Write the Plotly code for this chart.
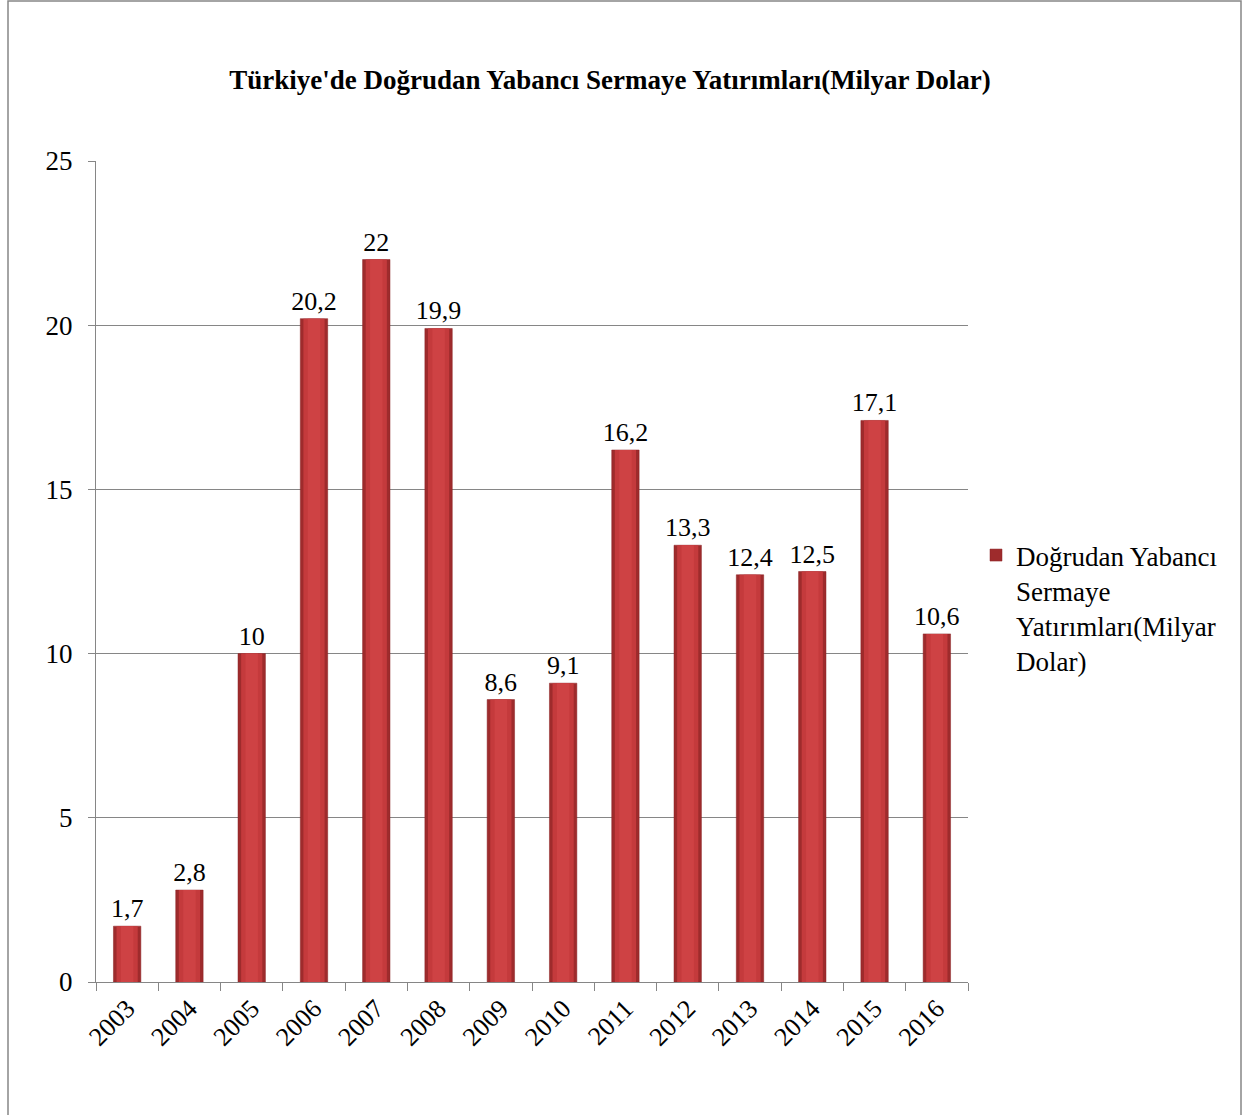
import plotly.graph_objects as go

# Foreign direct investment in Turkey, billion USD
years = ["2003", "2004", "2005", "2006", "2007", "2008", "2009",
         "2010", "2011", "2012", "2013", "2014", "2015", "2016"]
fdi = [1.7, 2.8, 10, 20.2, 22, 19.9, 8.6, 9.1, 16.2, 13.3, 12.4, 12.5, 17.1, 10.6]
y_ticks = [0, 5, 10, 15, 20, 25]

series_name = "Doğrudan Yabancı<br>Sermaye<br>Yatırımları(Milyar<br>Dolar)"
title_text = "Türkiye'de Doğrudan Yabancı Sermaye Yatırımları(Milyar Dolar)"

labels = [("%g" % v).replace(".", ",") for v in fdi]

FONT = "Liberation Serif, Times New Roman, serif"
W, H = 1248, 1115
L, R, T, B = 96, 280, 161, 133
pw, ph = W - L - R, H - T - B

fig = go.Figure()

# dark outer body of each bar (carries legend entry and value labels)
fig.add_trace(go.Bar(
    x=years, y=fdi, width=0.44, name=series_name,
    marker=dict(color="#9E2B2C", line=dict(color="#8A2324", width=0.5)),
    text=labels, textposition="outside", cliponaxis=False, constraintext="none",
    textfont=dict(family=FONT, size=26, color="#000000"),
    showlegend=True,
))
# lighter centre bands for a rounded look
fig.add_trace(go.Bar(
    x=years, y=fdi, width=0.34, showlegend=False, hoverinfo="skip",
    marker=dict(color="#C43A3C", line=dict(width=0)),
))
fig.add_trace(go.Bar(
    x=years, y=fdi, width=0.2, showlegend=False, hoverinfo="skip",
    marker=dict(color="#CE4244", line=dict(width=0)),
))

fig.update_layout(
    width=W, height=H,
    margin=dict(l=L, r=R, t=T, b=B, autoexpand=False),
    paper_bgcolor="white", plot_bgcolor="white",
    barmode="overlay",
    font=dict(family=FONT, size=27, color="#000000"),
    title=dict(text="<b>" + title_text + "</b>", x=(610 - L) / pw, xref="paper",
               xanchor="center", y=1 - 80 / H, yanchor="middle",
               font=dict(family=FONT, size=27, color="#000000")),
    legend=dict(x=(976 - L) / pw, y=(982 - 531) / ph, xanchor="left", yanchor="top",
                valign="top", font=dict(family=FONT, size=27, color="#000000"),
                itemwidth=30, tracegroupgap=0, bgcolor="rgba(0,0,0,0)"),
    showlegend=True,
)

fig.update_xaxes(
    type="category", tickangle=-45, tickson="boundaries",
    ticks="outside", ticklen=8, tickcolor="#868686", tickwidth=1,
    showline=True, linecolor="#868686", linewidth=1,
    showgrid=False, tickfont=dict(family=FONT, size=26),
)
fig.update_yaxes(
    range=[0, 25], tickvals=y_ticks, ticks="outside", ticklen=7,
    tickcolor="#868686", showline=True, linecolor="#868686", linewidth=1,
    showgrid=True, gridcolor="#868686", gridwidth=1, zeroline=False,
    ticklabelstandoff=10, tickfont=dict(family=FONT, size=27),
)

# outer chart frame
fig.add_shape(type="rect", xref="paper", yref="paper",
              x0=(8 - L) / pw, x1=(1241 - L) / pw,
              y0=(982 - 1130) / ph, y1=(982 - 1) / ph,
              line=dict(color="#868686", width=1.5), fillcolor="rgba(0,0,0,0)",
              layer="below")

fig.write_html("out.html")
